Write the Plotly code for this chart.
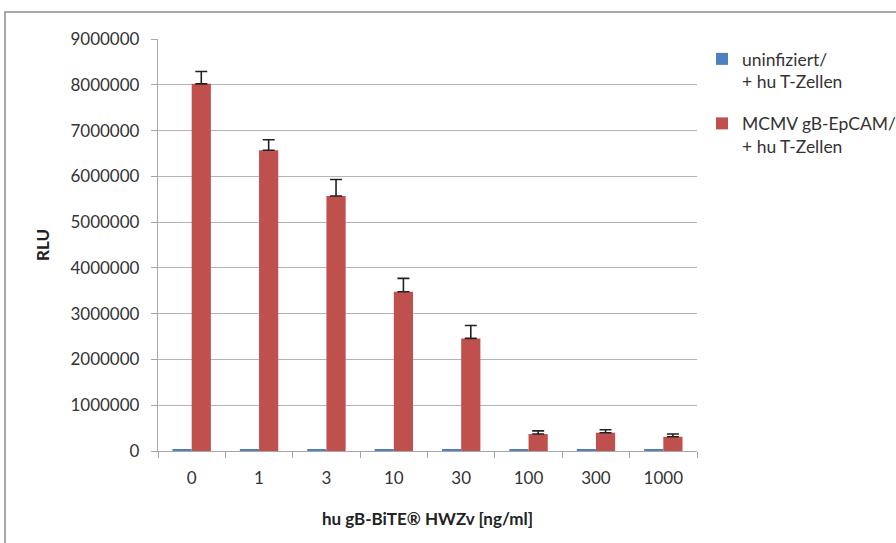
import plotly.graph_objects as go

categories = ["0", "1", "3", "10", "30", "100", "300", "1000"]
uninfected = [25000, 25000, 25000, 25000, 25000, 25000, 25000, 25000]
mcmv = [8020000, 6570000, 5570000, 3480000, 2460000, 370000, 400000, 310000]
mcmv_err = [270000, 230000, 360000, 290000, 280000, 70000, 65000, 60000]

series_names = ["uninfiziert/<br>+ hu T-Zellen", "MCMV gB-EpCAM/<br>+ hu T-Zellen"]
y_ticks = [0, 1000000, 2000000, 3000000, 4000000, 5000000, 6000000, 7000000, 8000000, 9000000]

FONT = "Lato, 'Open Sans', sans-serif"
W, H = 896, 543
L, R, T, B = 158, 199, 39, 92
pw, ph = W - L - R, H - T - B

fig = go.Figure()
fig.add_trace(go.Bar(x=categories, y=uninfected, name=series_names[0],
                     marker=dict(color="#4F81BD", line=dict(width=0)),
                     legendgroup="a"))
fig.add_trace(go.Bar(x=categories, y=mcmv, name=series_names[1],
                     marker=dict(color="#C0504D", line=dict(width=0)),
                     error_y=dict(type="data", array=mcmv_err, arrayminus=[0]*len(mcmv_err),
                                  symmetric=False, color="#222222", thickness=1.6, width=6),
                     legendgroup="b"))

fig.update_layout(
    width=W, height=H,
    margin=dict(l=L, r=R, t=T, b=B, autoexpand=False),
    paper_bgcolor="white", plot_bgcolor="white",
    barmode="group", bargap=0.43, bargroupgap=0,
    font=dict(family=FONT, size=17, color="#333333"),
    showlegend=True,
    legend=dict(x=(702 - L) / pw, y=(451 - 41) / ph, xanchor="left", yanchor="top",
                traceorder="grouped", tracegroupgap=16, valign="top",
                font=dict(family=FONT, size=17.5, color="#333333"),
                itemwidth=30, bgcolor="rgba(0,0,0,0)"),
    xaxis=dict(
        type="category", showgrid=False, showline=True, linecolor="#A6A6A6", linewidth=1.3,
        ticks="outside", tickson="boundaries", ticklen=6, tickcolor="#A6A6A6",
        ticklabelstandoff=11,
        title=dict(text="<b>hu gB-BiTE® HWZv [ng/ml]</b>", standoff=26,
                   font=dict(family=FONT, size=17, color="#222222")),
    ),
    yaxis=dict(
        range=[0, 9000000], tickvals=y_ticks, tickformat="d",
        showgrid=True, gridcolor="#B4B4B4", gridwidth=1.3,
        showline=True, linecolor="#A6A6A6", linewidth=1.3,
        ticks="outside", ticklen=6, tickcolor="#A6A6A6", ticklabelstandoff=8,
        zeroline=False,
        title=dict(text="<b>RLU</b>", standoff=16,
                   font=dict(family=FONT, size=17, color="#222222")),
    ),
    shapes=[dict(type="rect", xref="paper", yref="paper",
                 x0=(5 - L) / pw, x1=(W + 20 - L) / pw,
                 y0=(451 - (H + 20)) / ph, y1=(451 - 12) / ph,
                 line=dict(color="#8C8C8C", width=1.5), fillcolor="rgba(0,0,0,0)", layer="below")],
)

fig.write_html("out.html")
